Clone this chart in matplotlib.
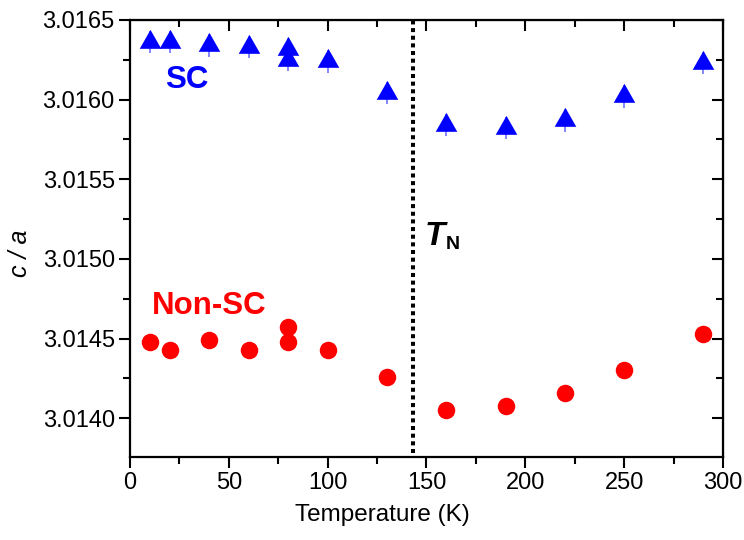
import numpy as np
import matplotlib.pyplot as plt
from matplotlib.ticker import MultipleLocator, FormatStrFormatter

plt.rcParams['font.family'] = ['Liberation Sans', 'DejaVu Sans']

# temperatures (K)
temp = [10, 20, 40, 60, 80, 80, 100, 130, 160, 190, 220, 250, 290]

# c/a for the superconducting sample
sc_ca = [3.01636, 3.01636, 3.01634, 3.01633, 3.01632, 3.01625, 3.01624,
         3.01604, 3.01584, 3.01582, 3.01587, 3.01602, 3.01623]
sc_err = [0.00007] * len(sc_ca)

# c/a for the non-superconducting sample
nonsc_ca = [3.01448, 3.01443, 3.01449, 3.01443, 3.01457, 3.01448, 3.01443,
            3.01426, 3.01405, 3.01408, 3.01416, 3.01430, 3.01453]

t_neel = 143

fig = plt.figure(figsize=(7.44, 5.40), dpi=100)
ax = fig.add_axes([130 / 744, 1 - 457 / 540, 593 / 744, 437 / 540])

# triangle centred on its centroid
tri = [(0, 2), (-1.71, -1), (1.71, -1)]

ax.errorbar(temp, sc_ca, yerr=sc_err, fmt='none', ecolor='#6f6fff',
            elinewidth=1.2, capsize=0, zorder=2)
ax.plot(temp, sc_ca, linestyle='none', marker=tri, markersize=18.2,
        color='#0000ff', markeredgewidth=0, zorder=3)
ax.plot(temp, nonsc_ca, linestyle='none', marker='o', markersize=12.6,
        color='#ff0000', markeredgewidth=0, zorder=3)

ax.axvline(t_neel, color='black', linewidth=2.9, linestyle=(0, (1, 0.9)),
           ymin=0.01, dash_capstyle='butt', zorder=1)

ax.text(18.0, 3.016072, 'SC', color='#0000ff', fontsize=22.5,
        fontweight='bold', ha='left', va='baseline')
ax.text(11.2, 3.014657, 'Non-SC', color='#ff0000', fontsize=22.5,
        fontweight='bold', ha='left', va='baseline')
ax.text(149.0, 3.01509, 'T', fontsize=24, fontweight='bold',
        fontstyle='italic', ha='left', va='baseline')
ax.text(159.6, 3.015065, 'N', fontsize=14, fontweight='bold',
        ha='left', va='baseline')

ax.set_xlim(0, 300)
ax.set_ylim(3.013757, 3.0165)

ax.xaxis.set_major_locator(MultipleLocator(50))
ax.xaxis.set_minor_locator(MultipleLocator(25))
ax.yaxis.set_major_locator(MultipleLocator(0.0005))
ax.yaxis.set_minor_locator(MultipleLocator(0.00025))
ax.yaxis.set_major_formatter(FormatStrFormatter('%.4f'))

ax.tick_params(which='both', direction='out', top=False, right=False,
               labelsize=17, width=1.5)
ax.tick_params(which='major', length=8, pad=3)
ax.tick_params(which='minor', length=5)

# inward ticks on top and right without labels
sec_x = ax.secondary_xaxis('top')
sec_x.xaxis.set_major_locator(MultipleLocator(50))
sec_x.xaxis.set_minor_locator(MultipleLocator(25))
sec_x.tick_params(which='both', direction='in', labeltop=False, width=1.5)
sec_x.tick_params(which='major', length=8)
sec_x.tick_params(which='minor', length=5)
sec_y = ax.secondary_yaxis('right')
sec_y.yaxis.set_major_locator(MultipleLocator(0.0005))
sec_y.yaxis.set_minor_locator(MultipleLocator(0.00025))
sec_y.tick_params(which='both', direction='in', labelright=False, width=1.5)
sec_y.tick_params(which='major', length=8)
sec_y.tick_params(which='minor', length=5)

for side in ['left', 'bottom', 'top', 'right']:
    ax.spines[side].set_linewidth(1.6)

ax.set_xlabel('Temperature (K)', fontsize=17.5)
ax.xaxis.set_label_coords(0.425, -0.108)
ax.set_ylabel('c / a', fontsize=18, fontstyle='italic')
ax.yaxis.set_label_coords(-0.166, 0.465)

fig.savefig('out.png', dpi=100)
